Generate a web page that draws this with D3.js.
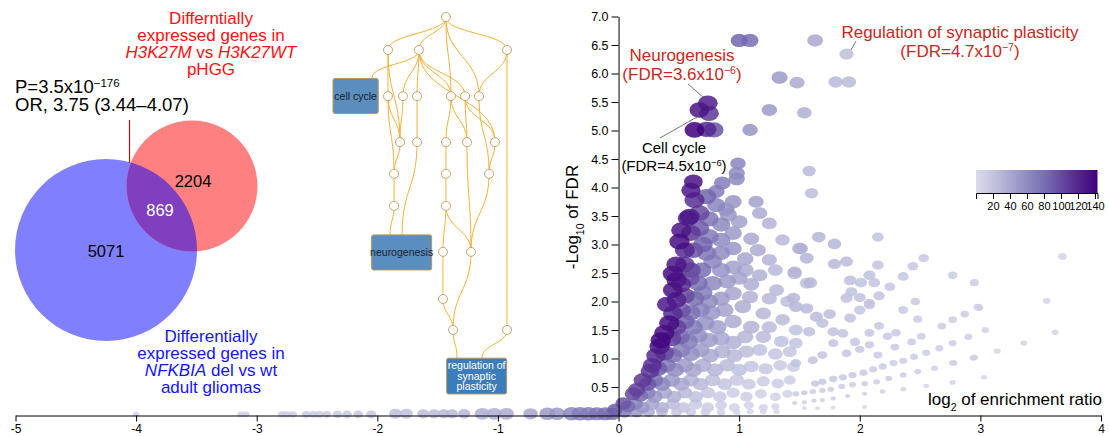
<!DOCTYPE html>
<html>
<head>
<meta charset="utf-8">
<script src="https://cdn.jsdelivr.net/npm/d3@7"></script>
<style>
  body { margin: 0; background: #fff; }
  text { font-family: "Liberation Sans", Arial, Helvetica, sans-serif; }
</style>
</head>
<body>
<div class="chart"></div>
<script>
// ---- Venn data ----
var vennCounts = [5071, 869, 2204];           // NFKBIA only, shared, H3K27M only
var vennTotals = [5071 + 869, 2204 + 869];    // blue set, red set

// ---- scatter axes ----
var xTicks = [-5, -4, -3, -2, -1, 0, 1, 2, 3, 4];
var yTicks = [0.5, 1.0, 1.5, 2.0, 2.5, 3.0, 3.5, 4.0, 4.5, 5.0, 5.5, 6.0, 6.5, 7.0];
var colorTicks = [20, 40, 60, 80, 100, 120, 140];

// ---- enrichment terms: [log2 ratio, -log10 FDR, colour value, overlap size] ----
var topTerms = [
  [1.00, 6.58, 85, 62], [1.09, 6.58, 80, 62], [1.63, 6.58, 40, 54], [1.89, 6.34, 24, 44],
  [1.335, 5.93, 50, 56], [1.48, 5.84, 38, 50], [1.80, 5.85, 28, 46], [1.91, 5.85, 26, 46],
  [1.25, 5.36, 50, 52], [1.54, 5.31, 35, 46], [1.09, 5.01, 55, 52],
  [0.74, 5.48, 125, 84], [0.67, 5.36, 130, 84], [0.75, 5.30, 110, 84], [0.63, 5.01, 143, 86],
  [0.73, 5.02, 120, 84], [0.79, 5.01, 95, 82],
  [0.62, 4.10, 132, 76], [0.99, 4.42, 65, 52], [0.98, 4.25, 62, 56], [0.98, 4.15, 62, 56],
  [0.86, 4.08, 70, 60], [0.81, 3.93, 72, 60], [1.58, 4.29, 28, 38], [1.60, 3.90, 26, 38],
  [0.60, 3.95, 128, 80]
];

var fanTerms = [
  [0.63, 3.78, 115, 88], [0.73, 3.84, 85, 80], [0.81, 3.69, 65, 70], [0.89, 3.62, 55, 64],
  [0.95, 3.75, 55, 62], [1.14, 3.75, 45, 50], [1.17, 3.55, 38, 50],
  [0.59, 3.49, 125, 88], [0.67, 3.55, 100, 88], [0.575, 3.46, 128, 88], [0.75, 3.45, 75, 80],
  [0.85, 3.35, 62, 72], [0.91, 3.52, 52, 64], [1.00, 3.40, 45, 60], [1.25, 3.37, 32, 48],
  [0.52, 3.25, 130, 88], [0.60, 3.20, 110, 86], [0.67, 3.28, 90, 84], [0.75, 3.14, 72, 80],
  [0.85, 3.08, 60, 75], [0.95, 3.20, 50, 66], [1.10, 3.10, 40, 55], [1.36, 3.08, 28, 45],
  [0.505, 3.05, 135, 88], [0.55, 2.90, 120, 86], [0.62, 2.90, 95, 84], [0.70, 3.00, 85, 82],
  [0.73, 2.85, 75, 80], [0.85, 2.85, 60, 72], [0.95, 2.93, 52, 64], [1.05, 2.75, 42, 60],
  [1.155, 2.90, 38, 55], [1.25, 2.73, 32, 50], [1.50, 2.93, 28, 48],
  [0.48, 2.65, 130, 88], [0.55, 2.65, 110, 84], [0.60, 2.55, 100, 84], [0.69, 2.55, 80, 80],
  [0.78, 2.70, 65, 75], [0.85, 2.55, 55, 72], [0.95, 2.60, 45, 64], [1.05, 2.55, 38, 60],
  [1.17, 2.46, 34, 52], [1.30, 2.55, 28, 48], [1.46, 2.49, 26, 45],
  [0.45, 2.49, 135, 88], [0.48, 2.38, 130, 88], [0.52, 2.30, 118, 86], [0.59, 2.41, 95, 84],
  [0.66, 2.32, 80, 80], [0.78, 2.32, 62, 75], [0.90, 2.35, 50, 68], [1.00, 2.41, 42, 60],
  [1.10, 2.30, 36, 56], [1.31, 2.20, 28, 48], [1.56, 2.32, 24, 42],
  [0.45, 2.20, 132, 86], [0.48, 2.03, 122, 84], [0.55, 2.10, 100, 84], [0.63, 2.05, 80, 80],
  [0.70, 2.15, 70, 78], [0.75, 2.00, 60, 72], [0.85, 2.05, 50, 70], [0.95, 2.14, 42, 64],
  [1.09, 2.08, 34, 56], [1.25, 2.05, 28, 50], [1.40, 2.00, 24, 44],
  [0.40, 1.95, 128, 84], [0.45, 1.79, 118, 84], [0.52, 1.85, 95, 82], [0.60, 1.80, 78, 80],
  [0.68, 1.85, 65, 76], [0.77, 1.80, 52, 72], [0.88, 1.85, 44, 68], [1.03, 1.91, 36, 60],
  [1.20, 1.79, 30, 52], [1.36, 1.68, 26, 46],
  [0.42, 1.62, 135, 88], [0.48, 1.55, 105, 84], [0.55, 1.65, 85, 80], [0.62, 1.55, 70, 78],
  [0.72, 1.62, 56, 74], [0.82, 1.55, 46, 70], [0.95, 1.65, 38, 64], [1.10, 1.55, 32, 58],
  [1.25, 1.55, 26, 50], [1.47, 1.50, 22, 42],
  [0.35, 1.32, 140, 90], [0.38, 1.45, 135, 88], [0.44, 1.35, 105, 84], [0.51, 1.38, 85, 80],
  [0.58, 1.30, 70, 78], [0.66, 1.40, 58, 75], [0.75, 1.32, 48, 72], [0.85, 1.35, 40, 68],
  [0.95, 1.28, 34, 64], [1.05, 1.38, 30, 58], [1.20, 1.38, 26, 52], [1.35, 1.30, 22, 46],
  [1.47, 1.27, 20, 40],
  [0.34, 1.21, 130, 88], [0.31, 1.05, 118, 82], [0.38, 1.10, 100, 80], [0.45, 1.05, 80, 76],
  [0.52, 1.15, 68, 76], [0.60, 1.08, 56, 72], [0.68, 1.15, 48, 70], [0.76, 1.05, 40, 66],
  [0.86, 1.12, 34, 62], [0.96, 1.05, 28, 58], [1.06, 1.12, 25, 54], [1.17, 1.15, 22, 50],
  [1.30, 1.08, 19, 46], [1.42, 1.12, 18, 42],
  [0.28, 0.88, 115, 78], [0.26, 0.78, 112, 75], [0.33, 0.82, 90, 72], [0.40, 0.88, 72, 70],
  [0.47, 0.80, 60, 68], [0.55, 0.88, 50, 66], [0.62, 0.80, 42, 64], [0.70, 0.88, 36, 62],
  [0.80, 0.80, 30, 58], [0.90, 0.88, 26, 55], [1.00, 0.80, 22, 52], [1.10, 0.86, 19, 48],
  [1.22, 0.82, 17, 44], [1.34, 0.88, 15, 40], [1.45, 0.85, 14, 36],
  [0.20, 0.62, 110, 70], [0.24, 0.55, 95, 66], [0.30, 0.62, 78, 64], [0.36, 0.55, 62, 62],
  [0.44, 0.62, 50, 60], [0.52, 0.55, 40, 58], [0.60, 0.62, 34, 56], [0.68, 0.55, 28, 54],
  [0.78, 0.62, 24, 52], [0.88, 0.55, 20, 48], [0.98, 0.62, 17, 46], [1.08, 0.55, 15, 42],
  [1.20, 0.60, 13, 38], [1.32, 0.56, 12, 34], [1.42, 0.62, 12, 30],
  [0.15, 0.45, 105, 64], [0.12, 0.38, 100, 60], [0.18, 0.35, 80, 56], [0.24, 0.40, 65, 56],
  [0.30, 0.33, 52, 54], [0.38, 0.40, 42, 52], [0.46, 0.33, 34, 50], [0.55, 0.40, 28, 48],
  [0.64, 0.33, 22, 46], [0.74, 0.40, 18, 44], [0.84, 0.33, 15, 40], [0.95, 0.40, 13, 38],
  [1.06, 0.33, 11, 34], [1.18, 0.38, 10, 30], [1.30, 0.33, 9, 26], [1.40, 0.38, 9, 22],
  [0.04, 0.21, 95, 55], [0.08, 0.16, 80, 50], [0.14, 0.20, 65, 50], [0.20, 0.14, 52, 46],
  [0.28, 0.20, 42, 46], [0.36, 0.14, 34, 44], [0.45, 0.20, 26, 42], [0.54, 0.14, 20, 40],
  [0.64, 0.20, 16, 38], [0.74, 0.14, 13, 34], [0.85, 0.18, 11, 30], [0.96, 0.14, 9, 26],
  [1.08, 0.18, 8, 22], [1.20, 0.14, 7, 18], [1.30, 0.16, 7, 14],
  [-0.03, 0.10, 90, 50], [0.05, 0.06, 70, 42], [0.15, 0.06, 50, 38], [0.25, 0.06, 36, 34],
  [0.36, 0.06, 26, 30], [0.48, 0.06, 18, 28], [0.60, 0.06, 14, 24], [0.72, 0.06, 11, 20],
  [0.85, 0.06, 9, 16], [0.98, 0.06, 8, 12], [1.09, 0.07, 7, 10], [1.20, 0.07, 6, 10],
  [1.31, 0.07, 6, 9]
];

var rayTerms = [
  [1.66, 3.13, 30, 40], [1.79, 3.01, 30, 40], [2.15, 3.13, 20, 30], [1.51, 2.93, 34, 45],
  [1.56, 2.76, 32, 42], [1.79, 2.66, 28, 38], [1.89, 2.70, 26, 36], [2.15, 2.64, 20, 30],
  [1.46, 2.52, 32, 42], [1.59, 2.33, 30, 40], [1.92, 2.37, 24, 34], [2.01, 2.33, 22, 32],
  [2.08, 2.46, 22, 32], [2.12, 2.33, 20, 30], [1.93, 2.17, 22, 30], [1.89, 2.06, 24, 32],
  [2.00, 2.07, 22, 30], [2.08, 1.97, 20, 28], [2.16, 2.10, 20, 28], [2.25, 2.26, 18, 26],
  [2.36, 2.44, 18, 26], [2.44, 2.62, 17, 25], [2.53, 2.76, 16, 24], [2.77, 2.46, 14, 20],
  [2.95, 2.33, 13, 18], [1.45, 2.06, 30, 40], [1.47, 1.91, 30, 40], [1.56, 1.88, 28, 38],
  [1.75, 1.78, 25, 34], [1.64, 1.73, 26, 36], [1.92, 1.71, 22, 30], [2.00, 1.85, 20, 28],
  [2.08, 1.94, 20, 26], [2.36, 1.85, 16, 22], [2.46, 2.00, 15, 20], [1.69, 1.62, 24, 32],
  [1.78, 1.47, 22, 28], [1.58, 1.47, 24, 32], [1.86, 1.44, 20, 26], [1.96, 1.29, 18, 24],
  [2.08, 1.45, 18, 22], [2.16, 1.57, 17, 22], [2.23, 1.39, 16, 20], [2.30, 1.45, 16, 20],
  [2.48, 1.69, 14, 18], [2.68, 1.57, 13, 16], [2.77, 1.68, 13, 16], [2.87, 1.78, 12, 16],
  [2.98, 1.90, 12, 16], [2.51, 1.39, 13, 16], [2.43, 1.29, 14, 16], [2.29, 1.20, 15, 17],
  [2.15, 1.06, 16, 17], [2.08, 1.24, 17, 18], [2.00, 1.16, 18, 19], [1.89, 1.09, 19, 20],
  [1.78, 1.27, 20, 22], [1.69, 1.06, 20, 22], [1.61, 0.97, 21, 22], [1.47, 0.92, 22, 24],
  [2.66, 1.18, 12, 14], [2.77, 1.27, 12, 14], [2.90, 1.38, 11, 14], [2.95, 1.02, 10, 12],
  [2.55, 1.10, 12, 14], [2.45, 1.03, 12, 14], [2.36, 0.96, 13, 14], [2.28, 0.92, 13, 14],
  [2.19, 0.86, 14, 14], [2.11, 0.81, 14, 14], [2.03, 0.75, 15, 14], [1.94, 0.71, 16, 14],
  [1.86, 0.67, 16, 14], [1.78, 0.64, 17, 14], [1.69, 0.59, 18, 14], [1.63, 0.56, 18, 14],
  [2.62, 0.83, 10, 10], [2.77, 0.92, 10, 11], [2.48, 0.77, 11, 10], [2.36, 0.71, 11, 10],
  [2.24, 0.65, 12, 10], [2.14, 0.59, 12, 10], [2.04, 0.56, 12, 10], [1.94, 0.54, 13, 10],
  [1.85, 0.51, 13, 10], [1.76, 0.46, 14, 9], [1.69, 0.44, 14, 9], [1.61, 0.42, 14, 9],
  [1.54, 0.40, 15, 9], [1.47, 0.38, 16, 10], [2.55, 0.52, 8, 7], [2.77, 0.58, 8, 8],
  [3.03, 0.67, 7, 7], [2.36, 0.46, 9, 7], [2.19, 0.42, 9, 7], [2.04, 0.38, 9, 6],
  [1.90, 0.34, 10, 6], [1.78, 0.30, 10, 6], [1.69, 0.27, 10, 6], [1.62, 0.26, 10, 6],
  [1.54, 0.23, 11, 6], [1.46, 0.22, 11, 6], [2.04, 0.15, 6, 5], [1.78, 0.14, 7, 5],
  [1.65, 0.13, 7, 5], [1.54, 0.13, 8, 5], [3.68, 2.79, 8, 16], [3.55, 2.01, 7, 12],
  [3.62, 1.46, 6, 10], [3.36, 1.27, 7, 10], [3.14, 1.13, 7, 10], [2.99, 1.89, 10, 14],
  [3.04, 1.50, 9, 12], [2.94, 1.01, 9, 11], [2.78, 0.92, 10, 11]
];

var depletedTerms = [
  [-4.00, 0.02, 8, 9], [-3.13, 0.02, 10, 12], [-3.09, 0.02, 10, 12], [-2.79, 0.02, 12, 14],
  [-2.75, 0.02, 12, 14], [-2.70, 0.02, 12, 14], [-2.59, 0.02, 14, 16], [-2.53, 0.02, 14, 16],
  [-2.48, 0.02, 14, 16], [-2.42, 0.02, 15, 16], [-2.33, 0.02, 16, 20], [-2.25, 0.02, 16, 20],
  [-2.16, 0.02, 18, 20], [-2.05, 0.02, 18, 22], [-1.85, 0.03, 24, 36], [-1.76, 0.03, 24, 36],
  [-1.62, 0.03, 26, 30], [-1.53, 0.03, 26, 30], [-1.45, 0.03, 28, 30], [-1.38, 0.03, 28, 30],
  [-1.28, 0.03, 30, 32], [-1.13, 0.03, 36, 49], [-1.03, 0.03, 36, 49], [-0.93, 0.03, 38, 49],
  [-0.73, 0.03, 42, 45], [-0.59, 0.03, 50, 56], [-0.51, 0.03, 52, 56], [-0.39, 0.03, 65, 64],
  [-0.32, 0.03, 70, 64], [-0.25, 0.03, 72, 64], [-0.18, 0.03, 75, 60], [-0.11, 0.03, 78, 60],
  [-0.05, 0.03, 80, 56]
];

// ---- GO DAG (layout units 0-100) ----
var dagNodes = [
  [64.9, 0], [31.6, 8.75], [49.4, 8.75], [100, 8.75],
  [31.6, 21], [40.2, 21], [48.3, 21], [67.8, 21], [75.9, 21], [83.9, 21],
  [38.5, 33.2], [48.3, 33.2], [64.9, 33.2], [77, 33.2], [93.1, 33.2],
  [35.1, 41.6], [64.9, 41.6], [89.7, 41.6],
  [35.1, 50.1], [64.9, 50.1],
  [63.2, 62.3], [79.3, 62.3], [63.2, 74.8], [69, 83], [100, 83]
];
var dagPorts = [[22.4, 16.2], [32.8, 57.8], [39.7, 57.8], [71.3, 90.5], [85.6, 90.5]];
var dagEdges = [
  [0, 1], [0, 2], [0, 3], [0, 7], [0, 9], [2, 25], [2, 5], [2, 6], [2, 7], [2, 8], [2, 14],
  [1, 4], [1, 10], [4, 15], [4, 10], [5, 10], [6, 11], [7, 12], [7, 13], [8, 13], [8, 14],
  [9, 17], [3, 9], [3, 24], [10, 15], [11, 27], [12, 16], [13, 21], [14, 17], [15, 18],
  [16, 19], [17, 21], [18, 26], [19, 20], [19, 21], [20, 22], [22, 23], [21, 23],
  [23, 28], [24, 29]
];
var dagBoxes = [
  { lines: ["cell cycle"], u0: 0, v0: 16.3, u1: 26, v1: 25.6, fill: "#5b8dbd", ink: "#17222e" },
  { lines: ["neurogenesis"], u0: 22.2, v0: 57.8, u1: 56.7, v1: 67.1, fill: "#5b8ec0", ink: "#17222e" },
  { lines: ["regulation of", "synaptic", "plasticity"], u0: 65.3, v0: 90.5, u1: 99.8, v1: 100, fill: "#3b7dba", ink: "#ffffff" }
];

// Create SVG object
var svg = d3.select(".chart").append("svg")
  .attr("width", 1109)
  .attr("height", 436);

// Helper: text with sub/superscripts and italics
function richText(g, x, y, parts, size, color, anchor) {
  var t = g.append("text")
    .attr("x", x).attr("y", y)
    .attr("font-size", size)
    .attr("fill", color)
    .attr("text-anchor", anchor || "middle");
  parts.forEach(function (p) {
    var s = t.append("tspan").text(p.t);
    if (p.i) s.attr("font-style", "italic");
    if (p.sup) s.attr("baseline-shift", "super").attr("font-size", size * 0.62);
    if (p.sub) s.attr("baseline-shift", "sub").attr("font-size", size * 0.62);
  });
  return t;
}

// ================= Scatter (drawn first so Venn and DAG sit on top) =================
var xScale = d3.scaleLinear().domain([-5, 4]).range([15.5, 1101]);
var yScale = d3.scaleLinear().domain([0, 7]).range([415.5, 16.5]);
var colorScale = d3.scaleSequential(function (t) { return d3.interpolatePurples(0.24 + 0.76 * t); })
  .domain([0, 143]);
var sizeScale = d3.scaleSqrt().domain([0, 100]).range([0, 10.8]);

var allTerms = depletedTerms.concat(rayTerms, fanTerms, topTerms)
  .slice().sort(function (a, b) { return a[2] - b[2]; });

var chart = svg.append("g");

chart.selectAll("ellipse")
  .data(allTerms)
  .enter()
  .append("ellipse")
  .attr("cx", function (d) { return xScale(d[0]); })
  .attr("cy", function (d) { return yScale(d[1]); })
  .attr("rx", function (d) { return sizeScale(d[3]); })
  .attr("ry", function (d) { return sizeScale(d[3]) * 0.78; })
  .attr("fill", function (d) { return colorScale(d[2]); })
  .attr("fill-opacity", 0.85);

// x axis
var xAxis = d3.axisBottom(xScale)
  .tickValues(xTicks)
  .tickFormat(function (d) { return String(d); })
  .tickSizeInner(6)
  .tickSizeOuter(0);
var xg = chart.append("g")
  .attr("transform", "translate(0," + yScale(0) + ")")
  .call(xAxis);
xg.selectAll("text").attr("font-size", 12).attr("fill", "#000").attr("y", 8).attr("dy", "0.8em");
xg.selectAll("path, line").attr("stroke", "#000");

// y axis
var yAxis = d3.axisLeft(yScale)
  .tickValues(yTicks)
  .tickFormat(d3.format(".1f"))
  .tickSizeInner(7)
  .tickSizeOuter(0);
var yg = chart.append("g")
  .attr("transform", "translate(" + xScale(0) + ",0)")
  .call(yAxis);
yg.selectAll("text").attr("font-size", 12.5).attr("fill", "#000");
yg.selectAll("path, line").attr("stroke", "#000");

// axis labels
var yl = richText(chart, 0, 0, [{ t: "-Log" }, { t: "10", sub: true }, { t: " of FDR" }], 17, "#000");
yl.attr("transform", "translate(578,217) rotate(-90)");
richText(chart, 1102, 405, [{ t: "log" }, { t: "2", sub: true }, { t: " of enrichment ratio" }], 17, "#000", "end");

// annotations
var annoRed = "#c9281c";
richText(chart, 682, 61, [{ t: "Neurogenesis" }], 17, annoRed);
richText(chart, 682, 80, [{ t: "(FDR=3.6x10" }, { t: "\u22126", sup: true }, { t: ")" }], 17, annoRed);
richText(chart, 674, 153, [{ t: "Cell cycle" }], 15, "#000");
richText(chart, 674, 171, [{ t: "(FDR=4.5x10" }, { t: "\u22126", sup: true }, { t: ")" }], 15, "#000");
richText(chart, 960, 38, [{ t: "Regulation of synaptic plasticity" }], 17, annoRed);
richText(chart, 960, 57, [{ t: "(FDR=4.7x10" }, { t: "\u22127", sup: true }, { t: ")" }], 17, annoRed);

var leaders = [[688, 84, 704, 98], [660, 138, 697, 117], [856, 41, 851, 50]];
chart.selectAll(".leader")
  .data(leaders)
  .enter()
  .append("line")
  .attr("class", "leader")
  .attr("x1", function (d) { return d[0]; })
  .attr("y1", function (d) { return d[1]; })
  .attr("x2", function (d) { return d[2]; })
  .attr("y2", function (d) { return d[3]; })
  .attr("stroke", "#555")
  .attr("stroke-width", 0.8);

// colour bar
var defs = svg.append("defs");
var grad = defs.append("linearGradient").attr("id", "purpleGrad");
d3.range(0, 1.0001, 0.1).forEach(function (t) {
  grad.append("stop")
    .attr("offset", (t * 100) + "%")
    .attr("stop-color", colorScale(t * 143));
});
var cbScale = d3.scaleLinear().domain([0, 143]).range([976, 1097.5]);
chart.append("rect")
  .attr("x", cbScale(0)).attr("y", 170)
  .attr("width", cbScale(143) - cbScale(0)).attr("height", 23)
  .attr("fill", "url(#purpleGrad)");
var cbg = chart.append("g")
  .attr("transform", "translate(0,193)")
  .call(d3.axisBottom(cbScale).tickValues(colorTicks).tickSizeInner(6).tickSizeOuter(6));
cbg.selectAll("text").attr("font-size", 11).attr("fill", "#000");
cbg.selectAll("path, line").attr("stroke", "#000");

// ================= Venn diagram =================
var vennR = d3.scaleSqrt().domain([0, vennTotals[0]]).range([0, 91]);
var blueC = { x: 106, y: 250, r: vennR(vennTotals[0]) };
var redC = { x: 192, y: 186, r: vennR(vennTotals[1]) };
var venn = svg.append("g");

defs.append("clipPath").attr("id", "blueClip")
  .append("circle").attr("cx", blueC.x).attr("cy", blueC.y).attr("r", blueC.r);

venn.append("circle").attr("cx", blueC.x).attr("cy", blueC.y).attr("r", blueC.r).attr("fill", "#8080ff");
venn.append("circle").attr("cx", redC.x).attr("cy", redC.y).attr("r", redC.r).attr("fill", "#ff8080");
venn.append("circle").attr("cx", redC.x).attr("cy", redC.y).attr("r", redC.r)
  .attr("fill", "#7f3fbf").attr("clip-path", "url(#blueClip)");

venn.append("text").attr("x", 106).attr("y", 256.5).attr("text-anchor", "middle")
  .attr("font-size", 16.5).text(vennCounts[0]);
venn.append("text").attr("x", 160).attr("y", 216).attr("text-anchor", "middle")
  .attr("font-size", 16.5).attr("fill", "#fff").text(vennCounts[1]);
venn.append("text").attr("x", 193).attr("y", 187).attr("text-anchor", "middle")
  .attr("font-size", 16.5).text(vennCounts[2]);

venn.append("line").attr("x1", 129.5).attr("y1", 120).attr("x2", 129.5).attr("y2", 163)
  .attr("stroke", "#a01818").attr("stroke-width", 1.2);

richText(venn, 15, 93, [{ t: "P=3.5x10" }, { t: "\u2212176", sup: true }], 18.5, "#000", "start");
richText(venn, 15, 111, [{ t: "OR, 3.75 (3.44\u20134.07)" }], 18.5, "#000", "start");

var red = "#ff1010";
richText(venn, 211, 24, [{ t: "Differntially" }], 17, red);
richText(venn, 211, 41, [{ t: "expressed genes in" }], 17, red);
richText(venn, 211, 58, [{ t: "H3K27M", i: true }, { t: " vs " }, { t: "H3K27WT", i: true }], 17, red);
richText(venn, 211, 75, [{ t: "pHGG" }], 17, red);

var blue = "#1414ff";
richText(venn, 211, 341.5, [{ t: "Differentially" }], 17, blue);
richText(venn, 211, 359, [{ t: "expressed genes in" }], 17, blue);
richText(venn, 211, 376, [{ t: "NFKBIA", i: true }, { t: " del vs wt" }], 17, blue);
richText(venn, 211, 393, [{ t: "adult gliomas" }], 17, blue);

// ================= GO DAG =================
var dagX = d3.scaleLinear().domain([0, 100]).range([333, 507]);
var dagY = d3.scaleLinear().domain([0, 100]).range([17, 394]);
var dagPts = dagNodes.concat(dagPorts);
var dag = svg.append("g");

dag.selectAll(".edge")
  .data(dagEdges)
  .enter()
  .append("path")
  .attr("class", "edge")
  .attr("d", function (e) {
    var a = dagPts[e[0]], b = dagPts[e[1]];
    var x1 = dagX(a[0]), y1 = dagY(a[1]), x2 = dagX(b[0]), y2 = dagY(b[1]);
    var my = (y1 + y2) / 2;
    return "M" + x1 + "," + y1 + " C" + x1 + "," + my + " " + x2 + "," + my + " " + x2 + "," + y2;
  })
  .attr("fill", "none")
  .attr("stroke", "#f2b134")
  .attr("stroke-width", 1);

dag.selectAll(".node")
  .data(dagNodes)
  .enter()
  .append("circle")
  .attr("class", "node")
  .attr("cx", function (d) { return dagX(d[0]); })
  .attr("cy", function (d) { return dagY(d[1]); })
  .attr("r", 4.5)
  .attr("fill", "#fff")
  .attr("stroke", "#c9a46a")
  .attr("stroke-width", 1);

var boxes = dag.selectAll(".box")
  .data(dagBoxes)
  .enter()
  .append("g")
  .attr("class", "box");
boxes.append("rect")
  .attr("x", function (d) { return dagX(d.u0); })
  .attr("y", function (d) { return dagY(d.v0); })
  .attr("width", function (d) { return dagX(d.u1) - dagX(d.u0); })
  .attr("height", function (d) { return dagY(d.v1) - dagY(d.v0); })
  .attr("rx", 2)
  .attr("fill", function (d) { return d.fill; })
  .attr("stroke", "#b8955a")
  .attr("stroke-width", 1);
boxes.each(function (d) {
  var g = d3.select(this);
  var cx = (dagX(d.u0) + dagX(d.u1)) / 2;
  var cy = (dagY(d.v0) + dagY(d.v1)) / 2;
  var lh = 10.5;
  var y0 = cy - (d.lines.length - 1) * lh / 2 + 3.8;
  d.lines.forEach(function (line, i) {
    g.append("text")
      .attr("x", cx).attr("y", y0 + i * lh)
      .attr("text-anchor", "middle")
      .attr("font-size", 10.5)
      .attr("fill", d.ink)
      .text(line);
  });
});
</script>
</body>
</html>
